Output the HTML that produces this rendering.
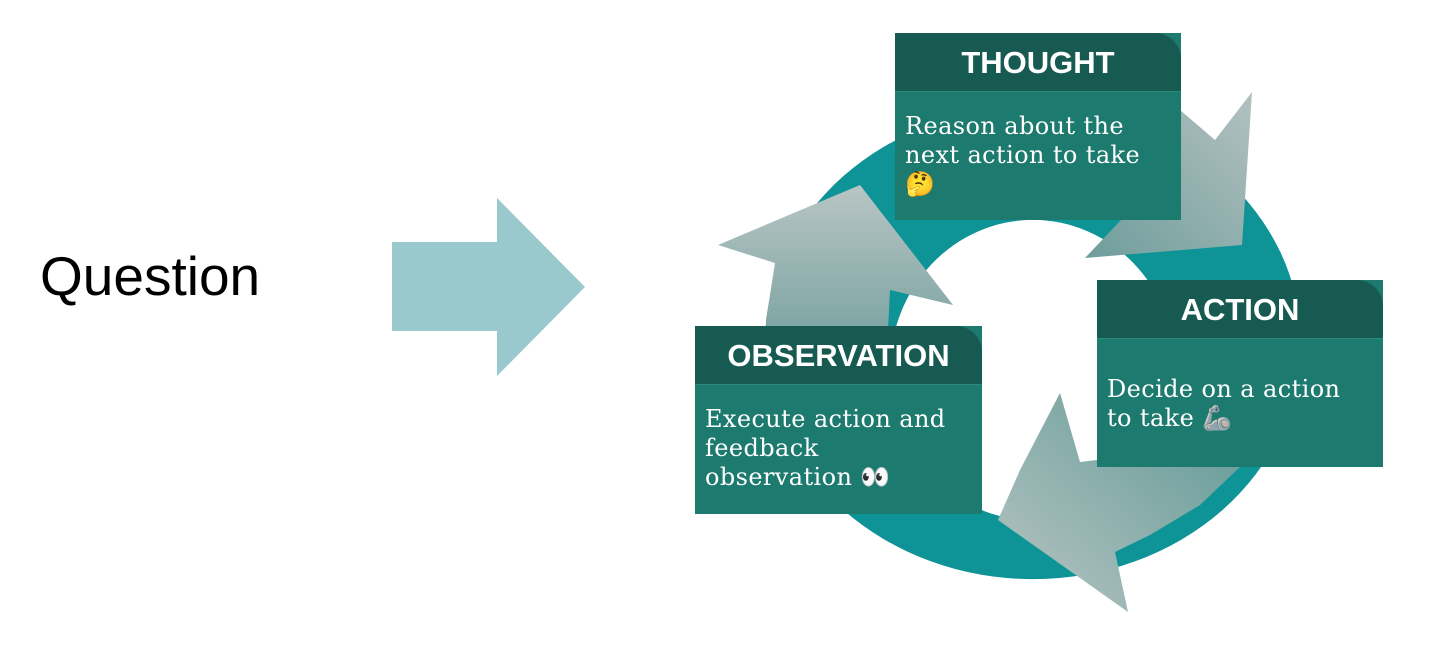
<!DOCTYPE html>
<html><head><style>
body{margin:0;width:1430px;height:650px;background:#fff;position:relative;overflow:hidden;font-family:"Liberation Sans",sans-serif}
.q{position:absolute;left:40px;top:244px;font-size:55px;color:#000}
.box{position:absolute;background:#1d7a6f;color:#fff}
.hd{background:#175a52;border-top-right-radius:26px;font-weight:bold;font-size:31px;text-align:center;height:58px;line-height:60px;border-bottom:1px solid #2a8a7e}
.bd{font-family:"DejaVu Serif","Liberation Serif",serif;font-size:24px;line-height:29px;padding:20px 10px 0 10px;letter-spacing:0.4px;width:250px}
</style></head><body>
<div class="q">Question</div>
<svg width="1430" height="650" style="position:absolute;left:0;top:0">
<defs>
<linearGradient id="g1" x1="1" y1="0" x2="0" y2="1"><stop offset="0" stop-color="#b3c1c0"/><stop offset="1" stop-color="#6e9d9b"/></linearGradient>
<linearGradient id="g2" x1="0" y1="1" x2="1" y2="0"><stop offset="0" stop-color="#b8c5c4"/><stop offset="1" stop-color="#5f9894"/></linearGradient>
<linearGradient id="g3" x1="0" y1="0" x2="0" y2="1"><stop offset="0" stop-color="#b8c5c4"/><stop offset="1" stop-color="#6b9b99"/></linearGradient>
</defs>
<polygon points="392,242 497,242 497,198 585,287 497,376 497,331 392,331" fill="#99c9cd"/>
<path fill-rule="evenodd" fill="#0e9497" d="M765,343 a268,236 0 1,0 536,0 a268,236 0 1,0 -536,0 Z M890,370 a143,150 0 1,0 286,0 a143,150 0 1,0 -286,0 Z"/>
<polygon points="1180,110 1215,140 1252,92 1242,245 1085,258 1140,200 1180,220" fill="url(#g1)"/>
<polygon points="1060,393 1080,462 1140,455 1240,467 1200,505 1150,535 1115,552 1128,612 998,520 1020,470" fill="url(#g2)"/>
<polygon points="718,245 860,185 953,305 890,290 888,330 880,380 768,380 766,320 775,263" fill="url(#g3)"/>
</svg>
<div class="box" style="left:895px;top:33px;width:286px;height:187px"><div class="hd">THOUGHT</div><div class="bd">Reason about the next action to take 🤔</div></div>
<div class="box" style="left:1097px;top:280px;width:286px;height:187px"><div class="hd">ACTION</div><div class="bd" style="padding-top:36px">Decide on a action to take 🦾</div></div>
<div class="box" style="left:695px;top:326px;width:287px;height:188px"><div class="hd">OBSERVATION</div><div class="bd">Execute action and feedback observation 👀</div></div>
</body></html>
